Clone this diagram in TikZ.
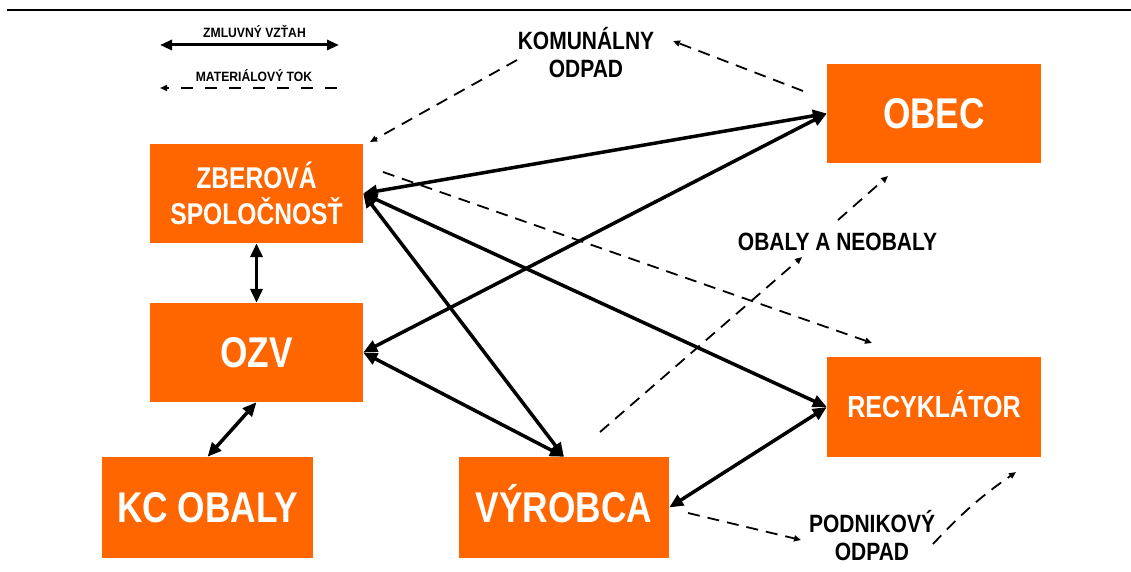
\documentclass[tikz,border=0pt]{standalone}
\usepackage{fontspec}
\setmainfont{Liberation Sans}
\newfontfamily\wf{Liberation Sans}[FakeStretch=0.82]
\newfontfamily\lf{Liberation Sans}[FakeStretch=0.84]
\newfontfamily\gf{Liberation Sans}[FakeStretch=0.9]
\usetikzlibrary{arrows.meta}
\definecolor{org}{RGB}{255,102,0}
\begin{document}
\begin{tikzpicture}[x=1pt,y=-1pt,
  box/.style={fill=org, text=white, inner sep=0pt, align=center},
  bigtxt/.style={font=\wf\bfseries\fontsize{43}{50}\selectfont, text height=30.8pt, text depth=0pt},
  contract/.style={line width=3.5pt, {Triangle[length=14pt,width=12pt]}-{Triangle[length=14pt,width=12pt]}},
  flow/.style={line width=1.8pt, dash pattern=on 12pt off 8pt, -{Triangle[length=7pt,width=6pt]}},
  lab/.style={font=\lf\bfseries\fontsize{25}{28}\selectfont, align=center, inner sep=0pt},
  leg/.style={font=\gf\bfseries\fontsize{13.5}{16}\selectfont, inner sep=0pt, text height=9.7pt, text depth=0pt}
]
\useasboundingbox (0,0) rectangle (1131,572);
\fill[white] (0,0) rectangle (1131,572);
% top rule
\draw[line width=2pt] (7,10) -- (1131,10);

% legend
\node[leg] (lz) at (254.5,32.5) {ZMLUVNÝ VZŤAH};
\coordinate (la1) at (160,45);
\coordinate (la2) at (339,45);
\draw[line width=3pt, {Triangle[length=12pt,width=10pt]}-{Triangle[length=12pt,width=10pt]}] (la1) -- (la2);
\node[leg] (lm) at (254,77) {MATERIÁLOVÝ TOK};
\coordinate (lb1) at (337,88);
\coordinate (lb2) at (160,88);
\draw[flow, line width=2pt, dash pattern=on 12pt off 12pt] (lb1) -- (lb2);

% boxes
\node[box, minimum width=213pt, minimum height=99pt, font=\wf\bfseries\fontsize{30}{36}\selectfont] (zb) at (256.5,193.5) {ZBEROVÁ\\SPOLOČNOSŤ};
\node[box, bigtxt, minimum width=213pt, minimum height=99pt] (ozv) at (256.5,352.5) {OZV};
\node[box, bigtxt, minimum width=211pt, minimum height=101pt] (kc) at (207.5,507.5) {KC OBALY};
\node[box, bigtxt, minimum width=210pt, minimum height=101pt] (vy) at (564,507.5) {VÝROBCA};
\node[box, bigtxt, minimum width=214pt, minimum height=99pt] (obec) at (934,113.5) {OBEC};
\node[box, minimum width=214pt, minimum height=100pt, font=\wf\bfseries\fontsize{30.5}{36}\selectfont, text height=21.8pt, text depth=0pt] (rec) at (934,407) {RECYKLÁTOR};

% labels
\node[lab] (kom) at (586,53) {KOMUNÁLNY\\ODPAD};
\node[lab, text height=17.9pt, text depth=0pt] (obn) at (837.5,242) {OBALY A NEOBALY};
\node[lab] (pod) at (872,536) {PODNIKOVÝ\\ODPAD};

% contractual relations
\draw[contract] (obec.west) -- (zb.east);
\draw[contract] (obec.west) -- (ozv.east);
\draw[contract] (zb.east) -- (rec.west);
\draw[contract] (zb.east) -- (vy.north);
\draw[contract] (ozv.east) -- (vy.north);
\draw[contract] (rec.west) -- (vy.east);
\draw[contract] (zb.south) -- (ozv.north);
\draw[contract] (ozv.south) -- (kc.north);

% material flows
\coordinate (c1s) at (517,60);  \coordinate (c1e) at (370,142);
\coordinate (c2s) at (803,91);  \coordinate (c2e) at (673,41);
\coordinate (c3s) at (383,172); \coordinate (c3e) at (872,343);
\coordinate (c4s) at (600,432); \coordinate (c4e) at (802,257);
\coordinate (c5s) at (838,220); \coordinate (c5e) at (888,176);
\coordinate (c6s) at (688,513); \coordinate (c6e) at (801,540);
\coordinate (c7s) at (933,544); \coordinate (c7e) at (1016,472);
\draw[flow] (c1s) -- (c1e);
\draw[flow] (c2s) -- (c2e);
\draw[flow] (c3s) -- (c3e);
\draw[flow] (c4s) -- (c4e);
\draw[flow] (c5s) -- (c5e);
\draw[flow] (c6s) -- (c6e);
\draw[flow] (c7s) to[bend left=6] (c7e);
\end{tikzpicture}
\end{document}
